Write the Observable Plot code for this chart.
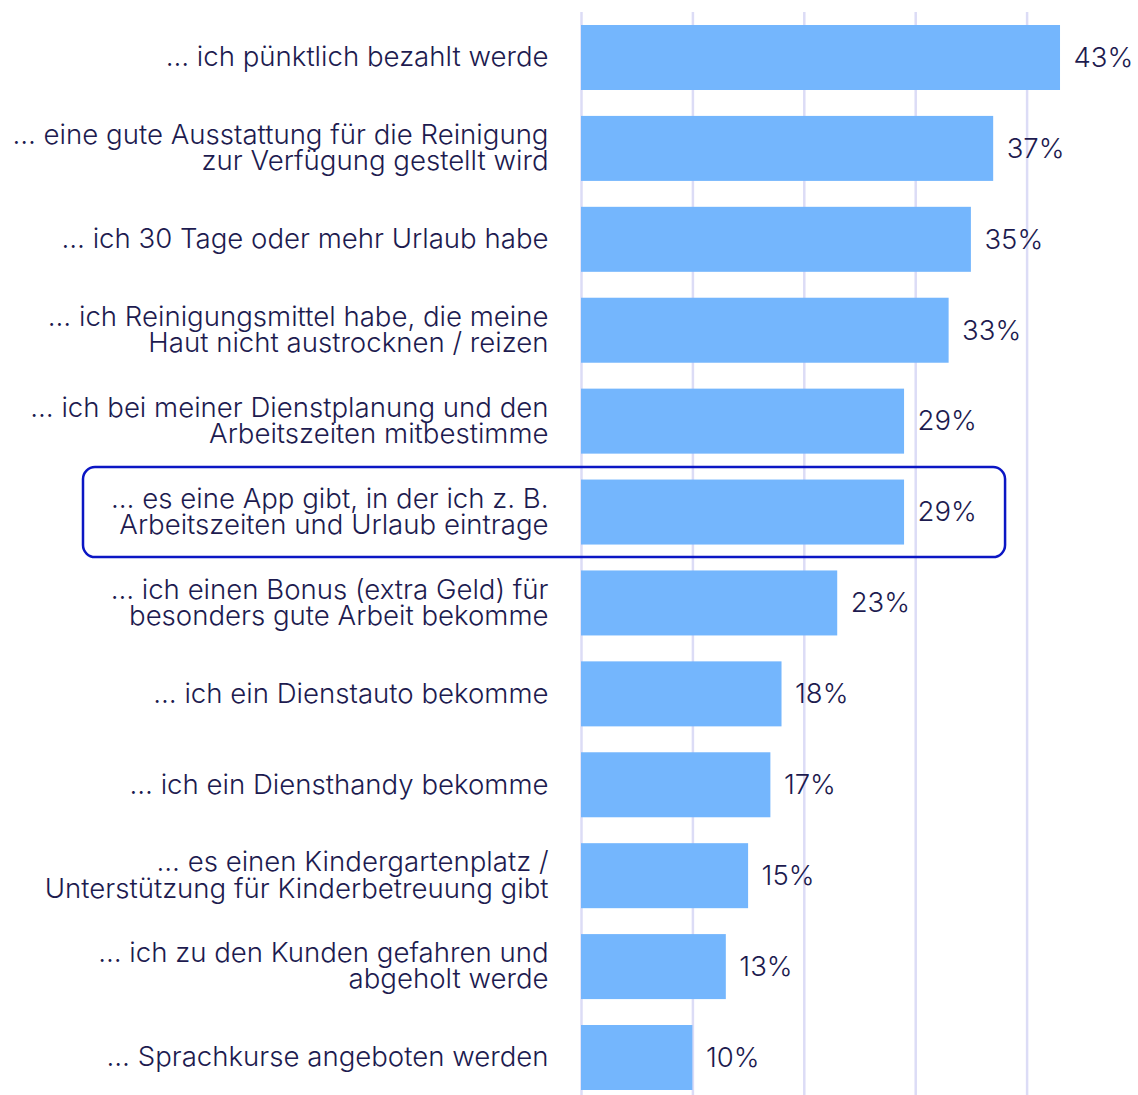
<!DOCTYPE html>
<html>
<head>
<meta charset="utf-8">
<script src="https://cdn.jsdelivr.net/npm/d3@7"></script>
<script src="https://cdn.jsdelivr.net/npm/@observablehq/plot@0.6"></script>
<style>
  html, body { margin: 0; padding: 0; background: #ffffff; }
  #chart svg { display: block; }
</style>
</head>
<body>
<div id="chart"></div>
<script>
const categories = [
  "… ich pünktlich bezahlt werde",
  "… eine gute Ausstattung für die Reinigung\nzur Verfügung gestellt wird",
  "… ich 30 Tage oder mehr Urlaub habe",
  "… ich Reinigungsmittel habe, die meine\nHaut nicht austrocknen / reizen",
  "… ich bei meiner Dienstplanung und den\nArbeitszeiten mitbestimme",
  "… es eine App gibt, in der ich z. B.\nArbeitszeiten und Urlaub eintrage",
  "… ich einen Bonus (extra Geld) für\nbesonders gute Arbeit bekomme",
  "… ich ein Dienstauto bekomme",
  "… ich ein Diensthandy bekomme",
  "… es einen Kindergartenplatz /\nUnterstützung für Kinderbetreuung gibt",
  "… ich zu den Kunden gefahren und\nabgeholt werde",
  "… Sprachkurse angeboten werden"
];
const values = [43, 37, 35, 33, 29, 29, 23, 18, 17, 15, 13, 10];
const gridTicks = [0, 10, 20, 30, 40];
const highlighted = "… es eine App gibt, in der ich z. B.\nArbeitszeiten und Urlaub eintrage";

const data = categories.map((c, i) => ({label: c, value: values[i]}));

const textColor = "#1d1b4f";
const fontFamily = "Inter, 'Noto Sans', sans-serif";

const chart = Plot.plot({
  width: 1138,
  height: 1095,
  marginLeft: 581,
  marginRight: 0,
  marginTop: 25,
  marginBottom: 5,
  style: {fontFamily: fontFamily, color: textColor, background: "#ffffff"},
  x: {domain: [0, 50], axis: null},
  y: {domain: categories, paddingInner: 0.285, paddingOuter: 0, round: false, label: null},
  marks: [
    Plot.ruleX(gridTicks, {x: d => d, stroke: "#dcdcf6", strokeWidth: 2.5, insetTop: -13, insetBottom: -5}),
    Plot.barX(data, {y: "label", x: "value", fill: "#74b6fd"}),
    Plot.barX(data.filter(d => d.label === highlighted), {
      y: "label", x1: 0, x2: "value",
      fill: "none", stroke: "#0b16c4", strokeWidth: 2.5, rx: 12,
      insetLeft: -498, insetRight: -101, insetTop: -12.5, insetBottom: -12.5
    }),
    Plot.text(data, {
      y: "label", x: "value", text: d => `${d.value}%`,
      textAnchor: "start", dx: 13, fontSize: 27.5, fontWeight: 300, fill: textColor
    }),
    Plot.axisY({
      tickSize: 0, tickPadding: 33, fontSize: 27.6, fontWeight: 300, lineHeight: 0.945,
      textAnchor: "end", fill: textColor, label: null
    })
  ]
});
document.getElementById("chart").appendChild(chart);
</script>
</body>
</html>
